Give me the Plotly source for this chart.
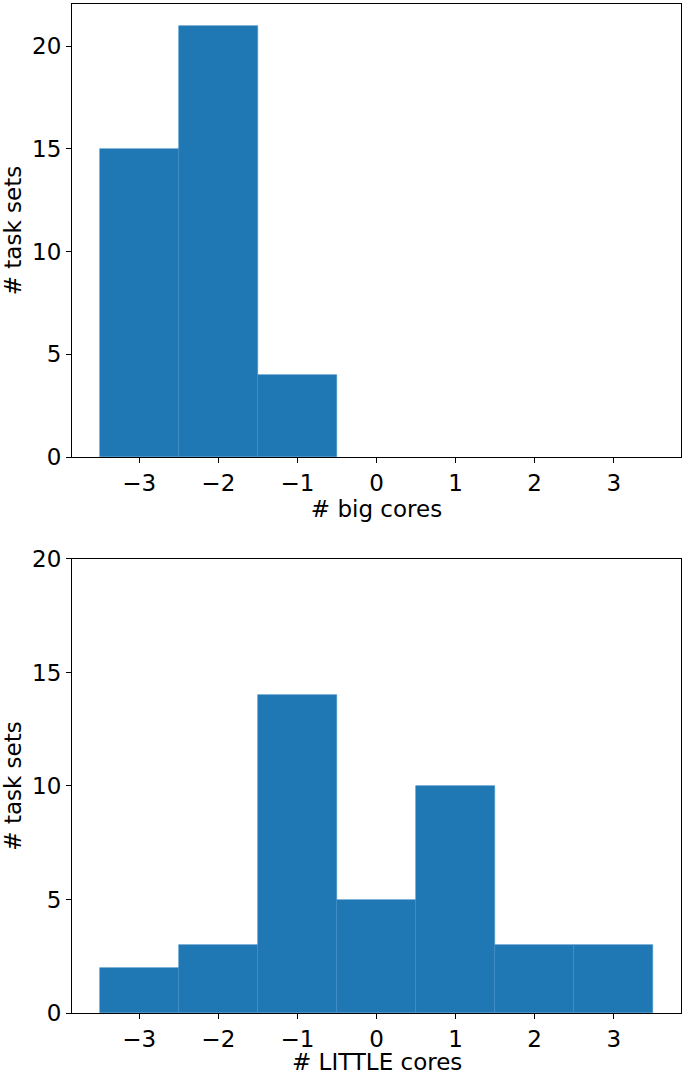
import plotly.graph_objects as go
from plotly.subplots import make_subplots

core_delta = [-3, -2, -1, 0, 1, 2, 3]
big_counts = [15, 21, 4, 0, 0, 0, 0]
little_counts = [2, 3, 14, 5, 10, 3, 3]
y_ticks = [0, 5, 10, 15, 20]
x_ticks = [-3, -2, -1, 0, 1, 2, 3]

BLUE = "#1f77b4"
FONT = "DejaVu Sans"
FS = 23

fig = make_subplots(rows=2, cols=1, vertical_spacing=0.1)

for row, counts in ((1, big_counts), (2, little_counts)):
    fig.add_trace(
        go.Bar(
            x=core_delta,
            y=[c if c > 0 else None for c in counts],
            width=1,
            marker=dict(color=BLUE, line=dict(color="#3f8cc4", width=0.6)),
            showlegend=False,
        ),
        row=row,
        col=1,
    )

axis_common = dict(
    showline=True,
    linecolor="black",
    linewidth=1.2,
    mirror=True,
    ticks="outside",
    ticklen=5,
    tickwidth=1.2,
    tickcolor="black",
    showgrid=False,
    zeroline=False,
    automargin=False,
    tickfont=dict(family=FONT, size=FS, color="black"),
)

fig.update_xaxes(**axis_common, range=[-3.85, 3.85], tickvals=x_ticks)
fig.update_yaxes(**axis_common, tickvals=y_ticks)

fig.update_layout(
    width=685,
    height=1074,
    margin=dict(l=72, r=4, t=4, b=61),
    plot_bgcolor="white",
    paper_bgcolor="white",
    bargap=0,
    font=dict(family=FONT, size=FS, color="black"),
    xaxis=dict(domain=[0, 1], title=dict(text="# big cores", standoff=4, font=dict(size=FS))),
    yaxis=dict(domain=[0.551, 1], range=[0, 22.05], title=dict(text="# task sets", standoff=4, font=dict(size=FS))),
    xaxis2=dict(domain=[0, 1]),
    yaxis2=dict(domain=[0, 0.45], range=[0, 20], title=dict(text="# task sets", standoff=4, font=dict(size=FS))),
)

fig.add_annotation(
    text="# LITTLE cores",
    xref="paper", yref="paper",
    x=0.5, y=0,
    xanchor="center", yanchor="top",
    yshift=-34,
    showarrow=False,
    font=dict(family=FONT, size=FS, color="black"),
)

fig.write_html(
    "out.html",
    config={"displayModeBar": False},
    post_script="document.body.style.margin='0';",
)
